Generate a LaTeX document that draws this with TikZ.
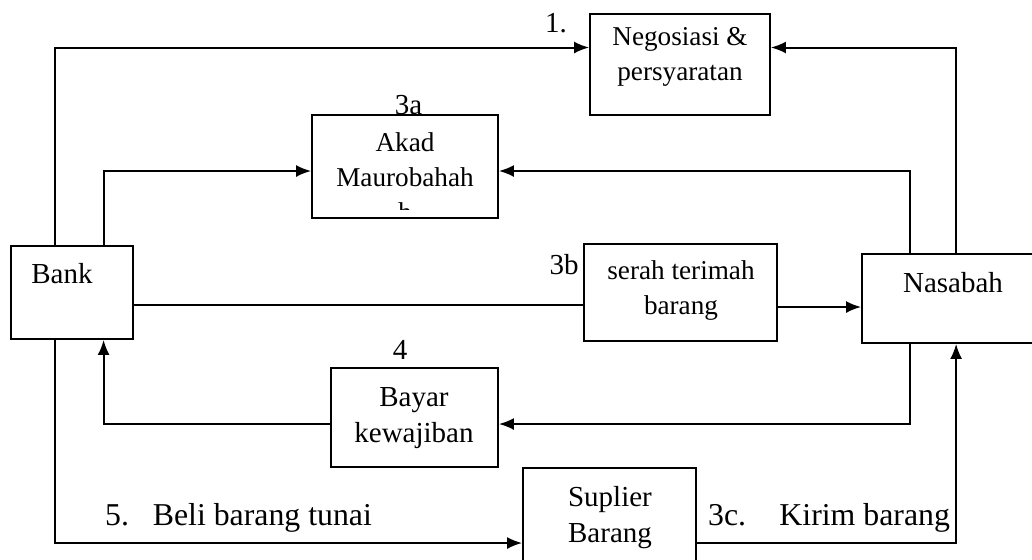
\documentclass[tikz,border=0pt]{standalone}
\usepackage{fontspec}
\setmainfont{Liberation Serif}
\usetikzlibrary{arrows.meta}
\newcommand\smallfnt{\fontsize{13.6pt}{17.5pt}\selectfont}
\newcommand\bigfnt{\fontsize{14.5pt}{17.75pt}\selectfont}
\newcommand\lblfnt{\fontsize{15.9pt}{19pt}\selectfont}
\tikzset{
  box/.style={draw, line width=0.9pt, inner sep=0pt},
  txt/.style={inner sep=0pt, align=center},
  conn/.style={line width=1pt},
}
\begin{document}
\begin{tikzpicture}[x=0.5pt,y=-0.5pt,>={Latex[length=7.5pt,width=6pt]}]
\useasboundingbox (0,0) rectangle (1032,559);
% kotak
\node[box, minimum width=61pt, minimum height=46.5pt] (bank) at (72,292.5) {};
\node[box, minimum width=90pt, minimum height=50.5pt] (neg) at (680,64.5) {};
\node[box, minimum width=93pt, minimum height=51.5pt] (akad) at (405,166.5) {};
\node[box, minimum width=96.5pt, minimum height=48.5pt] (serah) at (680.5,292.5) {};
\node[box, minimum width=91pt, minimum height=44.5pt] (nas) at (953,298.5) {};
\node[box, minimum width=83.5pt, minimum height=49.5pt] (bayar) at (414.5,417.5) {};
\node[box, minimum width=86.5pt, minimum height=53.5pt] (sup) at (609.5,521.5) {};
% teks
\node[txt, font=\bigfnt] (bankt) at (62,274) {Bank};
\node[txt, font=\smallfnt] (negt) at (680,56.4) {Negosiasi \&\\persyaratan};
\begin{scope}
  \clip ([yshift=4.5pt]akad.south west) rectangle (akad.north east);
  \node[txt, font=\smallfnt] (akadt) at (405,177) {Akad\\Maurobahah\\h};
\end{scope}
\node[txt, font=\smallfnt] (seraht) at (681,290.4) {serah terimah\\barang};
\node[txt, font=\bigfnt] (nast) at (953,283) {Nasabah};
\node[txt, font=\bigfnt] (bayart) at (414,418.3) {Bayar\\kewajiban};
\node[txt, font=\bigfnt] (supt) at (610,517.8) {Suplier\\Barang};
% nomor
\node[txt, font=\bigfnt] (l1) at (556,23.2) {1.};
\node[txt, font=\bigfnt] (l3a) at (408.5,105) {3a};
\node[txt, font=\bigfnt] (l3b) at (564,265) {3b};
\node[txt, font=\bigfnt] (l4) at (400,350) {4};
\node[txt, font=\lblfnt] (l5) at (238.5,518) {5.\hspace{0.75em}Beli barang tunai};
\node[txt, font=\lblfnt] (l3c) at (829,518) {3c.\hspace{1.05em}Kirim barang};
% panah
\draw[conn,->] ([xshift=22.25pt]bank.north west) |- ([yshift=8.5pt]neg.west);
\draw[conn,->] ([xshift=47.5pt]nas.north west) |- ([yshift=8.5pt]neg.east);
\draw[conn,->] ([xshift=46.75pt]bank.north west) |- ([yshift=-2.25pt]akad.west);
\draw[conn,->] ([xshift=24.25pt]nas.north west) |- ([yshift=-2.25pt]akad.east);
\draw[conn] ([yshift=-6pt]bank.east) -- ([yshift=-6pt]serah.west);
\draw[conn,->] ([yshift=-7.25pt]serah.east) -- ([yshift=-4.25pt]nas.west);
\draw[conn,->] ([xshift=24.25pt]nas.south west) |- ([yshift=-3.25pt]bayar.east);
\draw[conn,->] ([yshift=-3.25pt]bayar.west) -| ([xshift=46.75pt]bank.south west);
\draw[conn,->] ([xshift=22.25pt]bank.south west) |- ([yshift=-10.75pt]sup.west);
\draw[conn,->] ([yshift=-10.75pt]sup.east) -| ([xshift=47.5pt]nas.south west);
\end{tikzpicture}
\end{document}
